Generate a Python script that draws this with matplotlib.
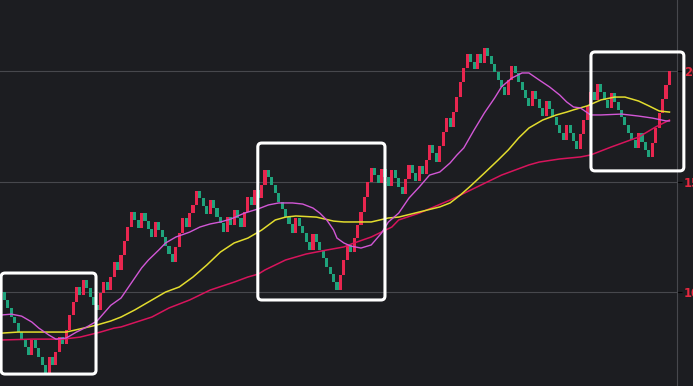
import matplotlib
matplotlib.use("Agg")
import matplotlib.pyplot as plt
import matplotlib.patches as patches
import matplotlib.transforms as mtransforms
import numpy as np

# ---- data (price units) ----
first_open = 10.00
closes = [
    9.64, 9.28, 8.87, 8.60, 8.19, 7.83, 7.51, 7.15, 7.83, 7.47,
    7.06, 6.70, 6.33, 7.06, 6.70, 7.29, 7.96, 7.65, 8.28, 8.96,
    9.55, 10.23, 9.86, 10.54, 10.18, 9.77, 9.41, 9.19, 9.95, 10.45,
    10.09, 10.68, 11.36, 11.00, 11.67, 12.31, 12.94, 13.62, 13.26, 12.90,
    13.57, 13.21, 12.85, 12.49, 13.17, 12.81, 12.49, 12.08, 11.72, 11.36,
    12.04, 12.67, 13.35, 12.94, 13.57, 13.94, 14.57, 14.25, 13.89, 13.53,
    14.16, 13.80, 13.39, 13.12, 12.71, 13.39, 13.03, 13.71, 13.35, 12.94,
    13.62, 14.30, 13.94, 14.62, 14.25, 14.84, 15.52, 15.20, 14.84, 14.48,
    14.07, 13.76, 13.39, 13.08, 12.67, 13.35, 12.99, 12.67, 12.26, 11.90,
    12.62, 12.26, 11.90, 11.54, 11.13, 10.81, 10.45, 10.09, 10.77, 11.45,
    12.13, 11.81, 12.44, 13.03, 13.62, 14.30, 14.98, 15.61, 15.29, 14.93,
    15.57, 15.20, 14.80, 15.52, 15.16, 14.75, 14.43, 15.11, 15.75, 15.38,
    15.02, 15.70, 15.34, 15.97, 16.65, 16.29, 15.88, 16.61, 17.24, 17.87,
    17.47, 18.14, 18.82, 19.50, 20.14, 20.77, 20.41, 20.09, 20.77, 20.36,
    21.04, 20.68, 20.32, 19.95, 19.59, 19.28, 18.91, 19.59, 20.23, 19.91,
    19.50, 19.14, 18.78, 18.42, 19.10, 18.73, 18.33, 17.96, 18.64, 18.28,
    17.92, 17.56, 17.19, 16.88, 17.56, 17.19, 16.83, 16.47, 17.15, 17.78,
    18.42, 19.05, 18.69, 19.41, 19.05, 18.69, 18.33, 19.00, 18.60, 18.24,
    17.92, 17.56, 17.19, 16.88, 16.52, 17.19, 16.79, 16.43, 16.11, 16.74,
    17.42, 18.10, 18.73, 19.37, 20.00,
]

# moving averages, sampled along the bars (bar index, price)
ma_fast_idx = [-1, 2, 5, 8, 10, 13, 15, 18, 21, 24, 27, 28, 31, 34, 37, 40, 42, 45, 47, 50,
               54, 57, 60, 63, 66, 70, 74, 77, 80, 84, 87, 90, 92, 94, 96, 97, 99, 101, 104, 107,
               110, 112, 115, 118, 121, 124, 127, 130, 132, 134, 137, 140, 143, 145, 148, 151, 153, 156, 159, 162,
               164, 166, 168, 171, 174, 180, 185, 189, 193, 194]
ma_fast = [8.96, 9.00, 8.91, 8.64, 8.37, 8.05, 7.87, 7.92, 8.19, 8.42, 8.69, 8.87, 9.40, 9.73, 10.41, 11.09, 11.45, 11.90, 12.22, 12.49,
           12.71, 12.94, 13.08, 13.17, 13.30, 13.57, 13.76, 13.94, 14.03, 14.03, 13.98, 13.80, 13.57, 13.26, 12.81, 12.44, 12.22, 12.08, 11.99, 12.13,
           12.67, 13.17, 13.57, 14.25, 14.75, 15.29, 15.43, 15.84, 16.20, 16.52, 17.33, 18.10, 18.78, 19.28, 19.68, 19.91, 19.91, 19.59, 19.28, 18.91,
           18.60, 18.37, 18.33, 18.01, 18.01, 18.05, 17.96, 17.87, 17.74, 17.74]

ma_mid_idx = [-1, 4, 13, 18, 22, 27, 31, 34, 38, 43, 47, 51, 55, 59, 63, 67, 71, 75, 79, 82,
              85, 91, 96, 99, 107, 112, 115, 121, 127, 130, 133, 136, 140, 144, 147, 150, 153, 157, 161, 164,
              166, 170, 174, 178, 181, 185, 188, 191, 194]
ma_mid = [8.14, 8.19, 8.19, 8.19, 8.33, 8.51, 8.69, 8.87, 9.19, 9.64, 10.00, 10.23, 10.68, 11.22, 11.81, 12.22, 12.44, 12.80, 13.26, 13.39,
          13.44, 13.39, 13.21, 13.17, 13.17, 13.35, 13.39, 13.62, 13.85, 14.03, 14.39, 14.80, 15.38, 15.97, 16.43, 16.97, 17.42, 17.78, 18.01, 18.14,
          18.24, 18.42, 18.69, 18.82, 18.82, 18.64, 18.42, 18.19, 18.14]

ma_slow_idx = [-1, 8, 17, 22, 28, 32, 34, 43, 48, 54, 60, 67, 71, 74, 76, 82, 88, 94, 99, 102,
               107, 113, 115, 121, 130, 139, 145, 153, 156, 162, 168, 171, 177, 185, 190, 194]
ma_slow = [7.83, 7.87, 7.87, 7.96, 8.19, 8.37, 8.42, 8.87, 9.28, 9.64, 10.09, 10.45, 10.68, 10.81, 11.00, 11.45, 11.72, 11.90, 12.04, 12.22,
           12.49, 12.94, 13.26, 13.57, 14.16, 14.84, 15.29, 15.75, 15.88, 16.02, 16.11, 16.20, 16.56, 17.01, 17.47, 17.78]

price_ticks = [10, 15, 20]

# highlighted regions: (first bar, last bar, low price, high price)
highlights = [(-1.0, 26.7, 6.29, 10.86), (73.9, 111.0, 9.64, 16.74), (171.1, 198.2, 15.48, 20.86)]

# ---- style ----
BG = "#1c1d21"
GRID = "#47484d"
UP = "#e8264f"
DOWN = "#1fa37c"
LABEL = "#e5283f"

fig = plt.figure(figsize=(6.93, 3.86), dpi=100, facecolor=BG)
ax = fig.add_axes([0, 0, 677 / 693, 1])
ax.set_facecolor(BG)

closes = np.array(closes)
opens = np.r_[first_open, closes[:-1]]
x = np.arange(len(closes))
colors = np.where(closes >= opens, UP, DOWN)
ax.bar(x, np.abs(closes - opens), bottom=np.minimum(opens, closes),
       width=0.9, color=colors, linewidth=0, zorder=3)

ax.plot(ma_slow_idx, ma_slow, color="#d8145c", lw=1.1, zorder=4)
ax.plot(ma_mid_idx, ma_mid, color="#e2dc2e", lw=1.1, zorder=4)
ax.plot(ma_fast_idx, ma_fast, color="#d257d6", lw=1.0, zorder=4)

ax.set_xlim(-1.313, 196.2)
ax.set_ylim(5.75, 23.21)
ax.set_xticks([])
ax.set_yticks(price_ticks)
ax.yaxis.tick_right()
ax.yaxis.grid(True, color=GRID, lw=0.8)
ax.set_axisbelow(True)
ax.tick_params(axis="y", length=3.3, width=0.8, color="#000000", pad=1.6,
               labelsize=8.4, labelcolor=LABEL)
for lab in ax.get_yticklabels():
    lab.set_fontweight("bold")
for side in ["top", "left", "bottom"]:
    ax.spines[side].set_visible(False)
ax.spines["right"].set_color(GRID)
ax.spines["right"].set_linewidth(0.8)

# white rounded highlight boxes, drawn in pixel space so corners stay round
for x0, x1, y0, y1 in highlights:
    (px0, py0), (px1, py1) = ax.transData.transform([(x0, y0), (x1, y1)])
    box = patches.FancyBboxPatch((px0, py0), px1 - px0, py1 - py0,
                                 boxstyle="round,pad=0,rounding_size=4",
                                 transform=mtransforms.IdentityTransform(),
                                 fill=False, edgecolor="white", linewidth=2.2,
                                 zorder=10, clip_on=False)
    fig.add_artist(box)

fig.savefig("out.png", dpi=100, facecolor=BG)
